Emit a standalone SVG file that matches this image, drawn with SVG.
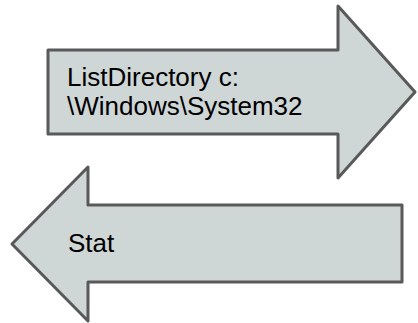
<svg xmlns="http://www.w3.org/2000/svg" width="418" height="323" viewBox="0 0 418 323">
  <style>
    .arrow { fill: #cfd6d6; stroke: #595959; stroke-width: 3; stroke-linejoin: round; }
    .label { font-family: "Liberation Sans", Arial, sans-serif; font-size: 26px; fill: #000000; }
  </style>
  <g id="request">
    <polygon class="arrow" points="48,50 338,50 338,6 415,92 338,178 338,134 48,134"/>
    <text class="label" x="67" y="86">ListDirectory c:</text>
    <text class="label" x="67" y="115">\Windows\System32</text>
  </g>
  <g id="response">
    <polygon class="arrow" points="402,205 88,205 88,167 12,244 88,321 88,282 402,282"/>
    <text class="label" x="68" y="252">Stat</text>
  </g>
  <g id="connectors"/>
</svg>
